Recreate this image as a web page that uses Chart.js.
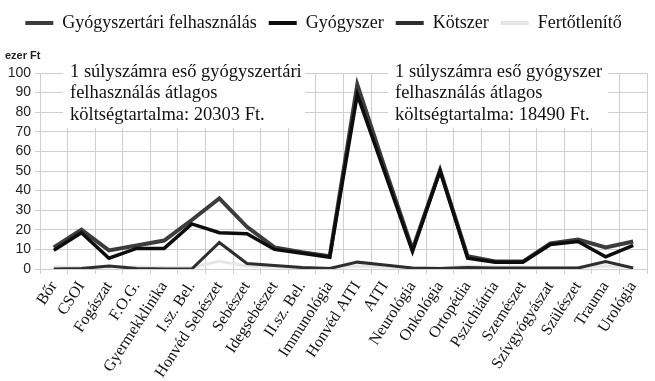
<!DOCTYPE html>
<html>
<head>
<meta charset="utf-8">
<script src="https://cdn.jsdelivr.net/npm/chart.js@4/dist/chart.umd.min.js"></script>
<style>
  html, body { margin: 0; padding: 0; background: #fff; }
  #wrap { width: 655px; height: 381px; }
</style>
</head>
<body>
<div id="wrap"><canvas id="chart"></canvas></div>
<script>
const categories = ["Bőr", "CSOI", "Fogászat", "F.O.G.", "Gyermekklinika", "I.sz. Bel.", "Honvéd Sebészet", "Sebészet", "Idegsebészet", "II.sz. Bel.", "Immunológia", "Honvéd AITI", "AITI", "Neurológia", "Onkológia", "Ortopédia", "Pszichiátria", "Szemészet", "Szívgyógyászat", "Szülészet", "Trauma", "Urológia"];
const gyogyszertari = [11, 20, 9.5, 12, 14.5, 25, 36, 21.5, 11, 8.5, 6.5, 94, 51.5, 10, 50.5, 6.5, 3.8, 3.8, 13, 15, 11, 14];
const gyogyszer = [9.5, 18.5, 5.5, 10.5, 10.5, 23, 18.5, 18, 10, 8, 6, 89, 49, 9, 50, 5.5, 3.4, 3.4, 12.5, 14, 6.2, 12];
const kotszer = [0, 0.3, 1.5, 0.3, 0, 0, 13.5, 2.8, 1.8, 0.8, 0.3, 3.5, 2, 0.5, 0.3, 0.8, 0.5, 0.5, 0.5, 0.5, 3.8, 0.5];
const fertotlenito = [1.2, 0.8, 1, 1, 0.8, 0.8, 4, 1.5, 1, 0.8, 0.5, 1.5, 1, 0.5, 0.5, 1.5, 1, 1, 0.8, 0.8, 1.5, 0.8];
const seriesNames = ["Gyógyszertári felhasználás", "Gyógyszer", "Kötszer", "Fertőtlenítő"];
const unitLabel = "ezer Ft";
const noteLeft = ["1 súlyszámra eső gyógyszertári", "felhasználás átlagos", "költségtartalma: 20303 Ft."];
const noteRight = ["1 súlyszámra eső gyógyszer", "felhasználás átlagos", "költségtartalma: 18490 Ft."];

const serif = "'Liberation Serif', 'Times New Roman', serif";
const sans = "'Liberation Sans', Arial, sans-serif";

// white text boxes + "ezer Ft" label, extra room under the legend
const notesPlugin = {
  id: "notes",
  afterInit(chart) {
    const fit = chart.legend.fit;
    chart.legend.fit = function () {
      fit.call(this);
      this.height += 31;
    };
  },
  beforeDatasetsDraw(chart) {
    const ctx = chart.ctx;
    ctx.save();
    const boxes = [
      { x: 63, y: 61, w: 242, h: 67, lines: noteLeft },
      { x: 388, y: 61, w: 220, h: 67, lines: noteRight }
    ];
    ctx.font = "18.5px " + serif;
    ctx.textBaseline = "middle";
    ctx.textAlign = "left";
    for (const b of boxes) {
      ctx.fillStyle = "#fff";
      ctx.fillRect(b.x, b.y, b.w, b.h);
      ctx.fillStyle = "#111";
      b.lines.forEach((t, i) => ctx.fillText(t, b.x + 7, b.y + 11 + i * 21.5));
    }
    ctx.restore();
  },
  afterDraw(chart) {
    const ctx = chart.ctx;
    ctx.save();
    ctx.font = "bold 11px " + sans;
    ctx.fillStyle = "#222";
    ctx.textBaseline = "middle";
    ctx.fillText(unitLabel, 5, 56);
    ctx.restore();
  }
};

new Chart(document.getElementById("chart"), {
  type: "line",
  data: {
    labels: categories,
    datasets: [
      { label: seriesNames[0], data: gyogyszertari, borderColor: "#3c3c3c", backgroundColor: "#3c3c3c", borderWidth: 4, order: 2 },
      { label: seriesNames[1], data: gyogyszer, borderColor: "#0d0d0d", backgroundColor: "#0d0d0d", borderWidth: 3.5, order: 1 },
      { label: seriesNames[2], data: kotszer, borderColor: "#2e2e2e", backgroundColor: "#2e2e2e", borderWidth: 3, order: 3 },
      { label: seriesNames[3], data: fertotlenito, borderColor: "#e6e6e6", backgroundColor: "#e6e6e6", borderWidth: 3, order: 4 }
    ]
  },
  options: {
    responsive: true,
    maintainAspectRatio: false,
    animation: false,
    elements: { point: { radius: 0 }, line: { tension: 0 } },
    layout: { padding: { top: 2, right: 8, left: 0, bottom: 0 } },
    plugins: {
      legend: {
        position: "top",
        labels: {
          boxWidth: 28,
          boxHeight: 4,
          padding: 12,
          color: "#111",
          font: { family: serif, size: 18 },
          sort: (a, b) => a.datasetIndex - b.datasetIndex,
          generateLabels(chart) {
            return Chart.defaults.plugins.legend.labels.generateLabels(chart).map(l => ({ ...l, lineWidth: 0, fillStyle: l.strokeStyle }));
          }
        }
      },
      tooltip: { enabled: false }
    },
    scales: {
      x: {
        offset: true,
        grid: { offset: true, color: "#cfcfcf", tickLength: 5, drawTicks: true },
        border: { color: "#cfcfcf" },
        ticks: { minRotation: 57, maxRotation: 57, autoSkip: false, padding: 4, color: "#111", font: { family: serif, size: 16 } },
        afterFit(scale) { scale.height = 112; }
      },
      y: {
        min: 0,
        max: 100,
        ticks: { stepSize: 10, autoSkip: false, color: "#222", font: { family: sans, size: 14 }, padding: 4 },
        grid: { color: "#cfcfcf", tickLength: 5 },
        border: { color: "#cfcfcf" },
        afterFit(scale) { scale.width = 40; }
      }
    }
  },
  plugins: [notesPlugin]
});
</script>
</body>
</html>
